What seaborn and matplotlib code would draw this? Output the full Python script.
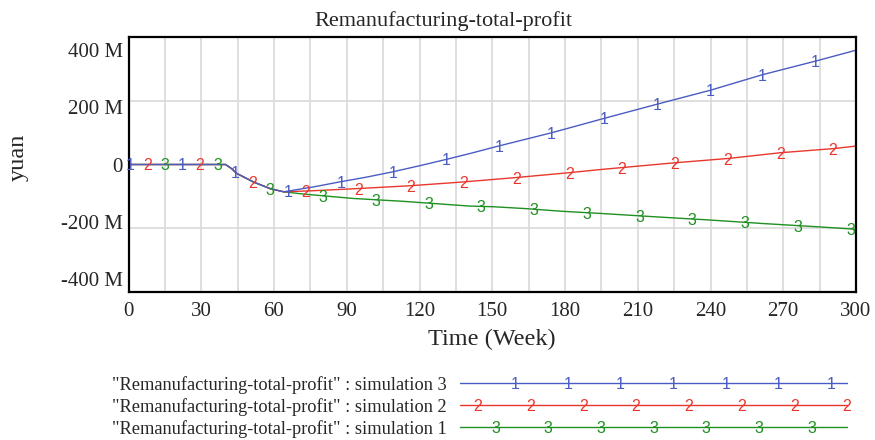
import numpy as np
import pandas as pd
import matplotlib
matplotlib.use("Agg")
import matplotlib.pyplot as plt
import seaborn as sns

# ---- chart text ----
title = "Remanufacturing-total-profit"
x_label = "Time (Week)"
y_label = "yuan"
x_ticks = [0, 30, 60, 90, 120, 150, 180, 210, 240, 270, 300]
y_ticks = [-400, -200, 0, 200, 400]                      # million yuan
y_tick_labels = ["-400 M", "-200 M", "0", "200 M", "400 M"]

# ---- series (profit in million yuan) ----
sim3_weeks = [0, 40, 42.5, 44.6, 51.5, 58.4, 64, 76, 87, 98, 109, 120, 131, 141,
              152.5, 174.5, 196, 218.5, 240, 261.5, 283, 300]
sim3_profit = [0, 0, -13, -28, -55, -76, -86, -71, -55, -40, -23, -4, 16, 35,
               58, 100, 145, 191, 234, 283, 325, 360]

sim2_weeks = [0, 40, 42.5, 44.6, 51.5, 58.4, 64, 75, 94, 116, 138, 160, 181.4,
              194.4, 224.7, 247.3, 268.7, 290.6, 300]
sim2_profit = [0, 0, -13, -28, -55, -76, -86, -83, -76, -67, -55, -41, -26,
               -16, 5, 19, 37, 50, 58]

sim1_weeks = [0, 40, 42.5, 44.6, 51.5, 58.4, 64, 72, 92.7, 113.3, 129.8, 140.8,
              150.4, 164, 178, 194.4, 217.8, 240, 261.8, 283.8, 300]
sim1_profit = [0, 0, -13, -28, -55, -76, -86, -93, -107, -116, -125, -131,
               -133, -139, -147, -154, -165, -175, -186, -196, -204]

series_names = ['"Remanufacturing-total-profit" : simulation 3',
                '"Remanufacturing-total-profit" : simulation 2',
                '"Remanufacturing-total-profit" : simulation 1']
series_digits = ["1", "2", "3"]
series_colors = ["#4a5cc2", "#e8372c", "#1f9022"]

series_weeks = [sim3_weeks, sim2_weeks, sim1_weeks]
series_profit = [sim3_profit, sim2_profit, sim1_profit]

frames = []
for name, w, p in zip(series_names, series_weeks, series_profit):
    frames.append(pd.DataFrame({"week": w, "profit": p, "series": name}))
df = pd.concat(frames, ignore_index=True)

sns.set_theme(style="white")
serif = ["Liberation Serif", "DejaVu Serif"]
sans = ["Liberation Sans", "DejaVu Sans"]
plt.rcParams["font.family"] = serif

W, H = 875, 440
fig = plt.figure(figsize=(W / 100, H / 100), dpi=100)
fig.patch.set_facecolor("white")

left, right, top, bottom = 128.5, 856, 37.5, 291.5
ax = fig.add_axes([left / W, 1 - bottom / H, (right - left) / W, (bottom - top) / H])

sns.lineplot(data=df, x="week", y="profit", hue="series",
             palette=dict(zip(series_names, series_colors)),
             hue_order=series_names[::-1], estimator=None, sort=False,
             linewidth=1.0, legend=False, ax=ax)

# numbered markers along each curve
marker_step = 21.75
digit_size = 11.5
for i, (w, p, c, d) in enumerate(zip(series_weeks, series_profit, series_colors, series_digits)):
    mw = np.arange(0.5 + i * marker_step / 3, 300.01, marker_step)
    mp = np.interp(mw, w, p)
    for xv, yv in zip(mw, mp):
        ax.text(xv, yv, d, color=c, fontsize=digit_size, family=sans,
                ha="center", va="center_baseline", zorder=5, clip_on=False)

ax.set_xlim(0, 300)
ax.set_ylim(-400, 400)

# grid: every 15 weeks / 200 M; y labels sit slightly inside the grid lines
ax.set_xticks(x_ticks)
ax.set_xticklabels([str(t) for t in x_ticks])
ax.set_xticks(np.arange(15, 300, 30), minor=True)
ax.set_yticks([v * 0.905 for v in y_ticks])
ax.set_yticklabels(y_tick_labels)
ax.set_yticks(y_ticks, minor=True)

ax.grid(False)
grid_kw = dict(color="#d9d9d9", linewidth=1.2)
ax.xaxis.grid(True, which="both", **grid_kw)
ax.yaxis.grid(True, which="minor", **grid_kw)
ax.set_axisbelow(True)

ax.tick_params(axis="both", which="both", length=0)
ax.tick_params(axis="x", labelsize=15, pad=7.5)
ax.tick_params(axis="y", labelsize=15, pad=4)
for s in ax.spines.values():
    s.set_color("black")
    s.set_linewidth(1.6)

ax.set_xlabel(x_label, fontsize=17.5, labelpad=5.5)
ax.set_ylabel(y_label, fontsize=17.5)
ax.yaxis.set_label_coords((29 - left) / (right - left), (bottom - 157) / (bottom - top))
ax.set_title(title, fontsize=16, pad=8.5, x=(443 - left) / (right - left))

# legend block beneath the plot, drawn in pixel coordinates
leg = fig.add_axes([0, 0, 1, 1], facecolor="none")
leg.set_xlim(0, W)
leg.set_ylim(H, 0)
leg.axis("off")
row_y = [383, 405, 427]
first_mark = [515, 478, 495.5]
for name, c, d, y, fm in zip(series_names, series_colors, series_digits, row_y, first_mark):
    leg.text(112, y, name, fontsize=13.2, family=serif, ha="left", va="center_baseline")
    leg.plot([460, 847], [y, y], color=c, linewidth=1.0)
    for mx in np.arange(fm, 848, 52.7):
        leg.text(mx, y, d, color=c, fontsize=digit_size, family=sans,
                 ha="center", va="center_baseline")

fig.savefig("out.png", dpi=100)
